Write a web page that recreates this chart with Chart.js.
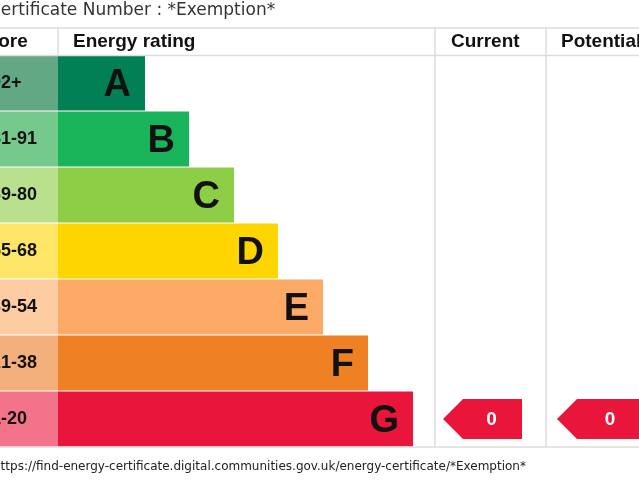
<!DOCTYPE html><html><head><style>body{margin:0;background:#fff}</style>
<script src="https://cdn.jsdelivr.net/npm/chart.js@4"></script></head><body>
<canvas id="c" width="639" height="480"></canvas>
<script>
const ratings=['A','B','C','D','E','F','G'];
const scoreBands=['92+','81-91','69-80','55-68','39-54','21-38','1-20'];
const barEnds=[145,189,234,278,323,368,413];
const barColors=['#008054','#19b459','#8dce46','#ffd500','#fcaa65','#ef8023','#e9153b'];
const scoreColors=['#63a884','#75c98c','#b9e08c','#ffe566','#fdcca3','#f4b07a','#f2738a'];
const currentRating='G', currentValue=0, potentialRating='G', potentialValue=0;
const scoreEnd=58;
const overlay={id:'ov',afterDatasetsDraw(ch){
 const c=ch.ctx,x=ch.scales.x,y=ch.scales.y;
 c.save();
 c.fillStyle='#333';c.font='17px "DejaVu Sans"';c.textBaseline='middle';c.textAlign='left';
 c.fillText('Certificate Number : *Exemption*',-11,11);
 c.strokeStyle='#ddd';c.lineWidth=1.5;
 [[0,28,639,28],[0,55.5,639,55.5],[0,447,639,447],[58,28,58,55],[435,28,435,447],[546,28,546,447]].forEach(l=>{c.beginPath();c.moveTo(l[0],l[1]);c.lineTo(l[2],l[3]);c.stroke();});
 c.fillStyle='#111';c.font='bold 19px "Liberation Sans"';
 c.fillText('Score',-25,42);c.fillText('Energy rating',73,42);c.fillText('Current',451,42);c.fillText('Potential',561,42);
 ratings.forEach((r,i)=>{const py=y.getPixelForValue(i);
  c.font='bold 18px "Liberation Sans"';c.textAlign='left';c.fillStyle='#111';c.fillText(scoreBands[i],-9-(scoreBands[i].length-3)*0,py);
  c.font='bold 38px "Liberation Sans"';c.textAlign='right';c.fillText(r,x.getPixelForValue(barEnds[i])-14,py+3);});
 function arrow(x0,x1,r,v){const py=y.getPixelForValue(ratings.indexOf(r));c.fillStyle='#e9153b';c.beginPath();c.moveTo(x0,py);c.lineTo(x0+20,py-20);c.lineTo(x1,py-20);c.lineTo(x1,py+20);c.lineTo(x0+20,py+20);c.closePath();c.fill();
  c.fillStyle='#fff';c.font='bold 19px "Liberation Sans"';c.textAlign='center';c.fillText(String(v),(x0+x1)/2+9,py+1);}
 arrow(443,522,currentRating,currentValue);arrow(557,645,potentialRating,potentialValue);
 c.fillStyle='#222';c.font='12px "DejaVu Sans"';c.textAlign='left';c.fillText('https://find-energy-certificate.digital.communities.gov.uk/energy-certificate/*Exemption*',-7,467);
 c.restore();}};
new Chart(document.getElementById('c'),{type:'bar',
 data:{labels:ratings,datasets:[
  {data:ratings.map(()=>[0,scoreEnd]),backgroundColor:scoreColors},
  {data:barEnds.map(e=>[scoreEnd,e]),backgroundColor:barColors}]},
 options:{indexAxis:'y',responsive:false,animation:false,devicePixelRatio:1,
  layout:{padding:{top:55,bottom:33,left:0,right:0}},
  plugins:{legend:{display:false},tooltip:{enabled:false}},
  datasets:{bar:{grouped:false,barPercentage:0.985,categoryPercentage:1,borderWidth:0}},
  scales:{x:{display:false,min:0,max:639},y:{display:false}}},
 plugins:[overlay]});
</script></body></html>
